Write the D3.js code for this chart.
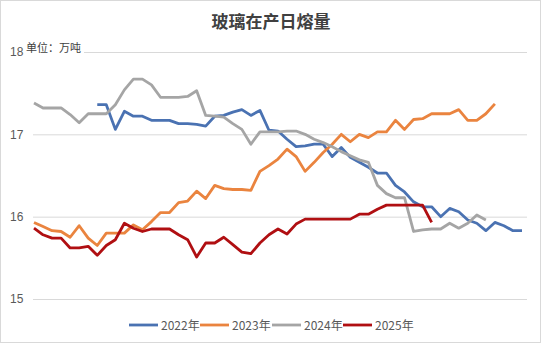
<!DOCTYPE html>
<html>
<head>
<meta charset="utf-8">
<script src="https://cdn.jsdelivr.net/npm/d3@7"></script>
<style>
  body { margin: 0; background: #fff; }
  svg { font-family: "Noto Sans CJK SC", "Noto Sans", sans-serif; }
</style>
</head>
<body>
<svg id="chart" width="542" height="345"></svg>
<script>
// weekly values, 万吨 (null = no data)
const s2022 = [null, null, null, null, null, null, null, 17.36, 17.36, 17.06,
  17.28, 17.22, 17.22, 17.17, 17.17, 17.17, 17.13, 17.13, 17.12, 17.10,
  17.22, 17.23, 17.27, 17.30, 17.23, 17.29, 17.05, 17.04, 16.94, 16.85,
  16.86, 16.88, 16.88, 16.73, 16.84, 16.72, 16.66, 16.60, 16.53, 16.53,
  16.38, 16.30, 16.18, 16.12, 16.12, 16.00, 16.10, 16.06, 15.96, 15.92,
  15.83, 15.93, 15.89, 15.83, 15.83];
const s2023 = [15.93, 15.88, 15.83, 15.82, 15.75, 15.89, 15.74, 15.65, 15.80, 15.80,
  15.80, 15.90, 15.84, 15.94, 16.05, 16.05, 16.17, 16.19, 16.31, 16.22,
  16.38, 16.34, 16.33, 16.33, 16.32, 16.55, 16.62, 16.70, 16.82, 16.73,
  16.55, 16.66, 16.78, 16.88, 17.00, 16.91, 17.00, 16.96, 17.03, 17.03,
  17.17, 17.06, 17.18, 17.19, 17.25, 17.25, 17.25, 17.30, 17.17, 17.17,
  17.25, 17.37];
const s2024 = [17.38, 17.32, 17.32, 17.32, 17.24, 17.14, 17.25, 17.25, 17.25, 17.36,
  17.54, 17.67, 17.67, 17.60, 17.45, 17.45, 17.45, 17.46, 17.53, 17.23,
  17.22, 17.21, 17.13, 17.06, 16.88, 17.03, 17.03, 17.03, 17.04, 17.04,
  17.00, 16.94, 16.90, 16.85, 16.79, 16.74, 16.69, 16.66, 16.38, 16.28,
  16.23, 16.23, 15.82, 15.84, 15.85, 15.85, 15.92, 15.86, 15.92, 16.02,
  15.96];
const s2025 = [15.86, 15.78, 15.74, 15.74, 15.62, 15.62, 15.64, 15.53, 15.65, 15.72,
  15.92, 15.86, 15.82, 15.85, 15.85, 15.85, 15.78, 15.72, 15.51, 15.68,
  15.68, 15.75, 15.66, 15.57, 15.55, 15.68, 15.78, 15.85, 15.79, 15.91,
  15.97, 15.97, 15.97, 15.97, 15.97, 15.97, 16.03, 16.03, 16.09, 16.14,
  16.14, 16.14, 16.14, 16.14, 15.93];

const seriesNames = ["2022年", "2023年", "2024年", "2025年"];
const seriesColors = ["#4a72b2", "#ea843f", "#a5a5a5", "#b00f12"];
const yTicks = [15, 16, 17, 18];

const series = [s2022, s2023, s2024, s2025];

const svg = d3.select("#chart");

// outer frame
svg.append("rect")
  .attr("x", 0.5).attr("y", 0.5)
  .attr("width", 540).attr("height", 342)
  .attr("fill", "#fff")
  .attr("stroke", "#d9d9d9");

const x = d3.scaleLinear().domain([0, 54]).range([34, 522]);
const y = d3.scaleLinear().domain([15, 18]).range([299, 52]);

// gridlines + labels
const yAxis = d3.axisLeft(y)
  .tickValues(yTicks)
  .tickSize(-(527 - 33))
  .tickFormat(d3.format("d"));

svg.append("g")
  .attr("transform", "translate(33,0)")
  .call(yAxis)
  .call(g => g.select(".domain").remove())
  .call(g => g.selectAll(".tick line").attr("stroke", "#d9d9d9"))
  .call(g => g.selectAll(".tick text")
    .attr("x", -23)
    .attr("text-anchor", "start")
    .attr("fill", "#595959")
    .attr("font-size", 12));

// title and unit
svg.append("text")
  .attr("x", 271).attr("y", 28)
  .attr("text-anchor", "middle")
  .attr("font-size", 17)
  .attr("font-weight", "bold")
  .attr("fill", "#404040")
  .text("玻璃在产日熔量");

svg.append("rect")
  .attr("x", 24).attr("y", 40).attr("width", 60).attr("height", 16)
  .attr("fill", "#fff");

svg.append("text")
  .attr("x", 26).attr("y", 52)
  .attr("font-size", 11)
  .attr("fill", "#404040")
  .text("单位：万吨");

const line = d3.line()
  .defined(d => d != null)
  .x((d, i) => x(i))
  .y(d => y(d));

svg.append("g")
  .selectAll("path")
  .data(series)
  .join("path")
  .attr("fill", "none")
  .attr("stroke", (d, i) => seriesColors[i])
  .attr("stroke-width", 2.8)
  .attr("stroke-linejoin", "round")
  .attr("d", line);

// legend
const legendX = [129, 200, 272, 343];
const legend = svg.append("g");
seriesNames.forEach((name, i) => {
  legend.append("line")
    .attr("x1", legendX[i]).attr("x2", legendX[i] + 29)
    .attr("y1", 325).attr("y2", 325)
    .attr("stroke", seriesColors[i])
    .attr("stroke-width", 2.8);
  legend.append("text")
    .attr("x", legendX[i] + 32).attr("y", 329.5)
    .attr("font-size", 12)
    .attr("fill", "#595959")
    .text(name);
});
</script>
</body>
</html>
